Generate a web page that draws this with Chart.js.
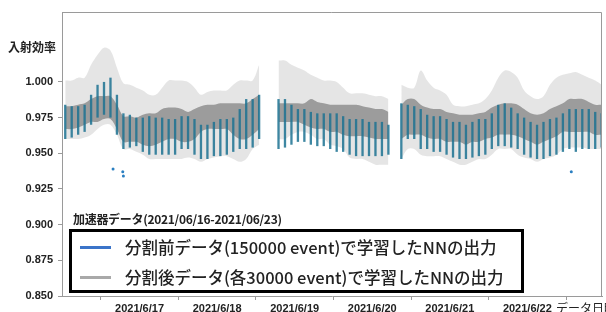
<!DOCTYPE html>
<html lang="ja">
<head>
<meta charset="UTF-8">
<title>入射効率</title>
<script src="https://cdn.jsdelivr.net/npm/chart.js@4.4.0/dist/chart.umd.min.js"></script>
<style>
    body { margin: 0; background: #fff; }
    .wrap { position: relative; width: 606px; height: 312px; font-family: "Noto Sans CJK JP", sans-serif; color: #222; }
    canvas { position: absolute; left: 0; top: 0; }
    .ytitle { position: absolute; left: 8px; top: 38px; font-size: 12px; font-weight: 700; }
    .lgtitle { position: absolute; left: 73px; top: 210px; font-size: 12px; font-weight: 700; letter-spacing: -0.3px; }
    .legend { position: absolute; left: 69px; top: 229px; width: 455px; height: 64px; box-sizing: border-box;
              border: 3px solid #000; background: #fff; }
    .row { position: absolute; left: 0; height: 24px; font-size: 16.5px; font-weight: 500; white-space: nowrap; }
    .row .sw { position: absolute; left: 8px; top: 11px; width: 31px; height: 3px; }
    .row .tx { position: absolute; left: 53px; top: 0; line-height: 24px; }
    .xtitle { position: absolute; left: 556px; top: 299px; font-size: 12px; white-space: nowrap; }
</style>
</head>
<body>
<div class="wrap">
    <canvas id="c" width="606" height="312"></canvas>
    <div class="ytitle">入射効率</div>
    <div class="lgtitle">加速器データ(2021/06/16-2021/06/23)</div>
    <div class="legend">
        <div class="row" style="top:3px"><span class="sw" style="background:#3b74c9"></span><span class="tx">分割前データ(150000 event)で学習したNNの出力</span></div>
        <div class="row" style="top:33px"><span class="sw" style="background:#a9a9a9"></span><span class="tx">分割後データ(各30000 event)で学習したNNの出力</span></div>
    </div>
    <div class="xtitle">データ日時</div>
</div>

<script>
// x軸: 2021/6/16 0時からの経過時間(h)、2時間ごとのビン
const dayHours = [24, 48, 72, 96, 120, 144];
const dayLabels = ['2021/6/17', '2021/6/18', '2021/6/19', '2021/6/20', '2021/6/21', '2021/6/22'];
const yTicks = [0.850, 0.875, 0.900, 0.925, 0.950, 0.975, 1.000];

// 分割後データ (灰色) 外側の薄い範囲
const grayHi = [
    1.001, 1.001, 1.003, 1.003, 1.012, 1.019, 1.024, 1.022, 1.010, 0.999, 0.998, 0.996,
    0.994, 0.991, 0.991, 0.996, 1.001, 1.001, 1.001, 1.000, 0.996, 0.991, 0.993, 0.994,
    0.994, 0.994, 0.998, 1.001, 1.001, 1.001, 1.012, null, null, 1.015, 1.015, 1.012,
    1.010, 1.008, 1.005, 1.003, 1.001, 1.001, 1.000, 0.996, 0.992, 0.992, 0.992, 0.991,
    0.990, 0.990, 0.988, null, 0.998, 0.996, 0.996, 1.008, 1.001, 0.996, 0.994, 0.991,
    0.984, 0.983, 0.983, 0.984, 0.985, 0.988, 0.994, 1.003, 1.008, 1.007, 1.003, 0.994,
    0.990, 0.988, 0.990, 0.998, 1.003, 1.005, 1.006, 1.007, 1.005, 1.003, 1.001, 0.998
];
const grayLo = [
    0.960, 0.960, 0.960, 0.961, 0.963, 0.967, 0.970, 0.970, 0.963, 0.953, 0.953, 0.951,
    0.949, 0.946, 0.946, 0.946, 0.946, 0.946, 0.946, 0.947, 0.946, 0.944, 0.946, 0.947,
    0.948, 0.948, 0.946, 0.944, 0.946, 0.953, 0.956, null, null, 0.960, 0.960, 0.963,
    0.965, 0.965, 0.963, 0.960, 0.960, 0.956, 0.955, 0.953, 0.947, 0.946, 0.946, 0.944,
    0.942, 0.942, 0.942, null, 0.946, 0.953, 0.953, 0.949, 0.948, 0.948, 0.948, 0.946,
    0.944, 0.942, 0.942, 0.944, 0.946, 0.946, 0.949, 0.953, 0.953, 0.953, 0.949, 0.947,
    0.946, 0.944, 0.946, 0.947, 0.949, 0.953, 0.954, 0.954, 0.954, 0.953, 0.953, 0.953
];
// 灰色の密な部分
const coreHi = [
    0.983, 0.983, 0.984, 0.985, 0.988, 0.990, 0.990, 0.990, 0.984, 0.976, 0.976, 0.975,
    0.977, 0.978, 0.978, 0.981, 0.982, 0.982, 0.981, 0.979, 0.981, 0.983, 0.984, 0.984,
    0.985, 0.985, 0.985, 0.985, 0.985, 0.988, 0.991, null, null, 0.985, 0.985, 0.985,
    0.985, 0.985, 0.988, 0.986, 0.985, 0.984, 0.984, 0.984, 0.984, 0.984, 0.983, 0.982,
    0.981, 0.981, 0.979, null, 0.984, 0.988, 0.988, 0.984, 0.982, 0.981, 0.981, 0.979,
    0.978, 0.977, 0.977, 0.977, 0.978, 0.979, 0.982, 0.984, 0.985, 0.985, 0.984, 0.981,
    0.978, 0.977, 0.978, 0.981, 0.983, 0.985, 0.988, 0.988, 0.988, 0.986, 0.984, 0.984
];
const coreLo = [
    0.967, 0.967, 0.968, 0.970, 0.972, 0.972, 0.974, 0.974, 0.967, 0.958, 0.958, 0.958,
    0.956, 0.955, 0.956, 0.958, 0.960, 0.960, 0.958, 0.958, 0.960, 0.965, 0.967, 0.967,
    0.967, 0.967, 0.963, 0.960, 0.960, 0.963, 0.967, null, null, 0.972, 0.972, 0.972,
    0.972, 0.970, 0.968, 0.967, 0.967, 0.965, 0.965, 0.963, 0.962, 0.962, 0.962, 0.961,
    0.960, 0.960, 0.960, null, 0.960, 0.963, 0.963, 0.963, 0.961, 0.960, 0.960, 0.958,
    0.958, 0.958, 0.956, 0.958, 0.958, 0.960, 0.961, 0.963, 0.963, 0.963, 0.962, 0.960,
    0.958, 0.956, 0.958, 0.960, 0.962, 0.965, 0.965, 0.965, 0.965, 0.965, 0.963, 0.963
];
// 分割前データ (青)
const blueHi = [
    0.984, 0.983, 0.983, 0.984, 0.991, 0.998, 1.000, 1.003, 0.991, 0.978, 0.977, 0.975,
    0.975, 0.976, 0.975, 0.975, 0.974, 0.974, 0.976, 0.976, 0.974, 0.970, 0.970, 0.972,
    0.974, 0.974, 0.975, 0.981, 0.988, 0.988, 0.991, null, null, 0.988, 0.988, 0.984,
    0.981, 0.981, 0.979, 0.978, 0.978, 0.978, 0.978, 0.976, 0.974, 0.974, 0.974, 0.972,
    0.972, 0.972, 0.970, null, 0.985, 0.984, 0.983, 0.981, 0.977, 0.976, 0.976, 0.974,
    0.972, 0.972, 0.970, 0.972, 0.974, 0.974, 0.978, 0.984, 0.985, 0.982, 0.978, 0.975,
    0.972, 0.970, 0.972, 0.974, 0.975, 0.978, 0.981, 0.981, 0.981, 0.981, 0.979, 0.978
];
const blueLo = [
    0.960, 0.961, 0.963, 0.965, 0.970, 0.975, 0.977, 0.975, 0.963, 0.953, 0.954, 0.955,
    0.951, 0.949, 0.949, 0.949, 0.949, 0.949, 0.953, 0.953, 0.949, 0.946, 0.946, 0.948,
    0.948, 0.949, 0.951, 0.953, 0.953, 0.954, 0.960, null, null, 0.953, 0.954, 0.956,
    0.958, 0.958, 0.956, 0.955, 0.955, 0.953, 0.951, 0.951, 0.949, 0.948, 0.948, 0.948,
    0.948, 0.948, 0.949, null, 0.946, 0.960, 0.960, 0.953, 0.953, 0.951, 0.951, 0.949,
    0.947, 0.946, 0.946, 0.947, 0.948, 0.949, 0.953, 0.955, 0.955, 0.954, 0.953, 0.949,
    0.947, 0.946, 0.946, 0.948, 0.949, 0.951, 0.953, 0.951, 0.953, 0.953, 0.953, 0.954
];
// 青の外れ値
const blueOutX = [15.8, 18.8, 19.0, 157.6];
const blueOutY = [0.939, 0.937, 0.934, 0.937];

const binHours = grayHi.map((_, i) => 2 * i + 1);
const pts = arr => binHours.map((h, i) => ({ x: h, y: arr[i] }));
const band = (lo, hi) => binHours.map((h, i) => ({ x: h, y: lo[i] == null ? null : [lo[i], hi[i]] }));

const tickFont = { family: 'Liberation Sans', size: 11, weight: 'bold' };

const framePlugin = {
    id: 'frame',
    afterDraw(chart) {
        const a = chart.chartArea, ctx = chart.ctx;
        ctx.save();
        ctx.strokeStyle = '#9a9a9a';
        ctx.lineWidth = 1;
        ctx.beginPath();
        ctx.moveTo(a.left, a.top + 0.5);
        ctx.lineTo(a.right - 0.5, a.top + 0.5);
        ctx.lineTo(a.right - 0.5, a.bottom);
        ctx.stroke();
        ctx.restore();
    }
};

new Chart(document.getElementById('c'), {
    type: 'bar',
    data: {
        datasets: [
            { type: 'line', data: pts(grayHi), borderColor: 'transparent', borderWidth: 0, pointRadius: 0, tension: 0.35, fill: false, order: 5 },
            { type: 'line', data: pts(grayLo), borderColor: 'transparent', borderWidth: 0, pointRadius: 0, tension: 0.35, fill: '-1',
              backgroundColor: 'rgba(160,160,160,0.27)', order: 5 },
            { type: 'line', data: pts(coreHi), borderColor: 'transparent', borderWidth: 0, pointRadius: 0, tension: 0.35, fill: false, order: 4 },
            { type: 'line', data: pts(coreLo), borderColor: 'transparent', borderWidth: 0, pointRadius: 0, tension: 0.35, fill: '-1',
              backgroundColor: 'rgba(125,125,125,0.7)', order: 4 },
            { type: 'bar', data: band(blueLo, blueHi), backgroundColor: 'rgba(28,114,146,0.85)', borderWidth: 0,
              barPercentage: 0.36, categoryPercentage: 1, grouped: false, order: 2 },
            { type: 'scatter', data: blueOutX.map((x, i) => ({ x: x, y: blueOutY[i] })), backgroundColor: '#2a7fc1',
              borderWidth: 0, pointRadius: 1.5, order: 1 }
        ]
    },
    options: {
        responsive: false,
        animation: false,
        layout: { padding: { top: 12, right: 3, left: 0, bottom: 0 } },
        plugins: { legend: { display: false }, tooltip: { enabled: false } },
        scales: {
            x: {
                type: 'linear', min: 0, max: 167.1, offset: false,
                afterBuildTicks: s => { s.ticks = dayHours.map(v => ({ value: v })); },
                afterFit: s => { s.height = 16; },
                ticks: { callback: (v, i) => dayLabels[i], font: tickFont, color: '#222', padding: 2, maxRotation: 0, autoSkip: false },
                grid: { drawOnChartArea: false, tickLength: 4, color: '#9a9a9a' },
                border: { color: '#9a9a9a' }
            },
            y: {
                min: 0.85, max: 1.049,
                afterBuildTicks: s => { s.ticks = yTicks.map(v => ({ value: v })); },
                afterFit: s => { s.width = 62; },
                ticks: { callback: v => v.toFixed(3), font: tickFont, color: '#222', padding: 5 },
                grid: { drawOnChartArea: false, tickLength: 4, color: '#9a9a9a' },
                border: { color: '#9a9a9a' }
            }
        }
    },
    plugins: [framePlugin]
});
</script>
</body>
</html>
